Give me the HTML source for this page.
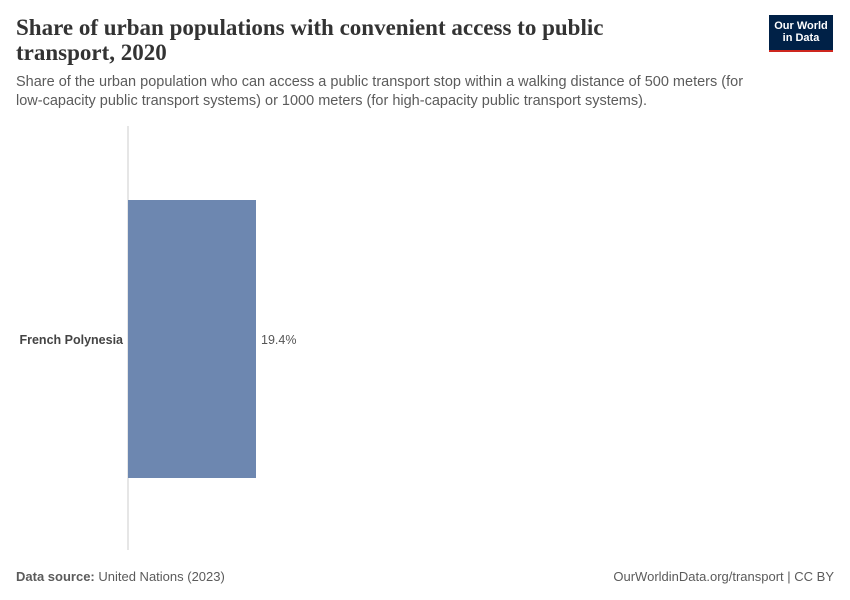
<!DOCTYPE html>
<html><head><meta charset="utf-8"><style>
body{margin:0;width:850px;height:600px;background:#fff;font-family:"Liberation Sans",sans-serif;position:relative;overflow:hidden}
.t{position:absolute;margin:0}
</style></head><body>
<h1 class="t" style="left:16px;top:15px;font-family:'Liberation Serif',serif;font-size:23px;line-height:25px;font-weight:bold;color:#333;width:610px">Share of urban populations with convenient access to public transport, 2020</h1>
<p class="t" style="left:16px;top:73px;font-size:14.5px;line-height:19px;color:#5b5b5b;width:745px">Share of the urban population who can access a public transport stop within a walking distance of 500 meters (for low-capacity public transport systems) or 1000 meters (for high-capacity public transport systems).</p>
<div style="position:absolute;left:769px;top:15px;width:64px;height:37px;background:#002147;border-bottom:2px solid #ce261e;box-sizing:border-box;color:#fff;font-size:11px;line-height:12px;text-align:center;padding-top:5px;font-weight:bold">Our World<br>in Data</div>
<svg id="chart" width="850" height="600" style="position:absolute;left:0;top:0"></svg>
<div class="t" style="left:16px;top:569px;font-size:13px;color:#5b5b5b"><b>Data source:</b> United Nations (2023)</div>
<div class="t" style="right:16px;top:569px;font-size:13px;color:#5b5b5b">OurWorldinData.org/transport | CC BY</div>
<script>
const categories=["French Polynesia"];
const values=[19.4];
const labels=["19.4%"];
const svg=document.getElementById('chart');
const NS="http://www.w3.org/2000/svg";
const x0=128,pxPerUnit=128/19.4;
function xs(v){return x0+v*pxPerUnit;}
const bandTop=200,bandH=278;
function mk(t,a){const e=document.createElementNS(NS,t);for(const k in a)e.setAttribute(k,a[k]);svg.appendChild(e);return e;}
const ax=mk('line',{x1:x0,x2:x0,y1:126,y2:550,stroke:'#ccc','stroke-width':1});


categories.forEach((c,i)=>{
 const y=bandTop+i*bandH;
 const r=mk('rect',{x:xs(0),y:y,width:xs(values[i])-xs(0),height:bandH,fill:'#6d87b0'});
 
 
 const l=mk('text',{x:123,y:y+bandH/2+5,'text-anchor':'end','font-size':12.5,'font-weight':'bold',fill:'#444','font-family':'Liberation Sans,sans-serif'});
 l.textContent=c;
 
 
 const v=mk('text',{x:xs(values[i])+5,y:y+bandH/2+5,'font-size':12.5,fill:'#555','font-family':'Liberation Sans,sans-serif'});
 v.textContent=labels[i];
 
 
});
</script>
</body></html>
